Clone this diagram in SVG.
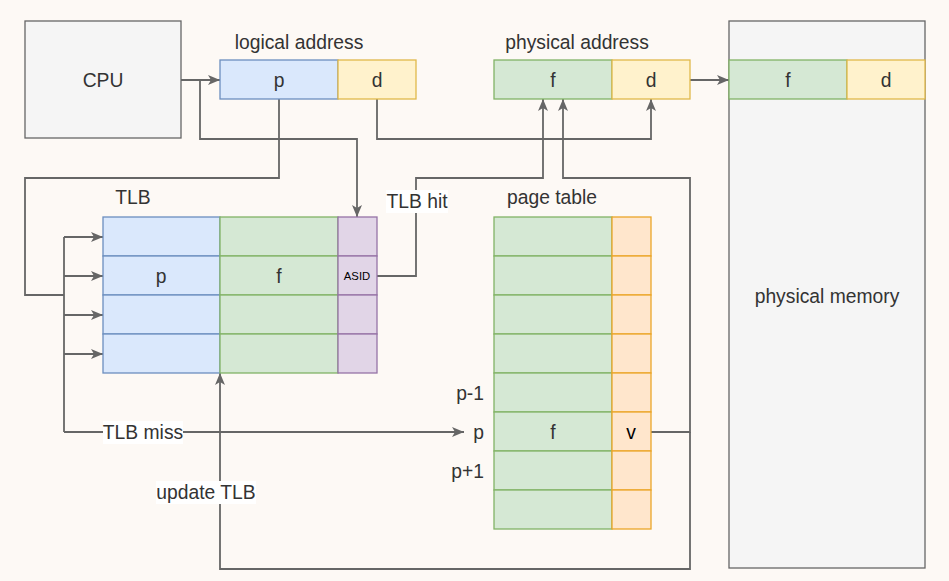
<svg xmlns="http://www.w3.org/2000/svg" width="949" height="581" viewBox="0 0 949 581">
<defs>
<marker id="arr" viewBox="0 0 12 10" refX="12" refY="5" markerWidth="12" markerHeight="10" markerUnits="userSpaceOnUse" orient="auto">
<path d="M0,0 L12,5 L0,10 L3,5 Z" fill="#666666"/>
</marker>
<style>
text{font-family:"Liberation Sans",Arial,Helvetica,sans-serif;font-size:19.3px;fill:#333333;text-anchor:middle;dominant-baseline:central}
.gray{fill:#f5f5f5;stroke:#666666;stroke-width:1.3}
.blue{fill:#dae8fc;stroke:#6c8ebf;stroke-width:1.3}
.yel{fill:#fff2cc;stroke:#e0b84a;stroke-width:1.3}
.grn{fill:#d5e8d4;stroke:#82b366;stroke-width:1.3}
.pur{fill:#e1d5e7;stroke:#9673a6;stroke-width:1.3}
.org{fill:#ffe6cc;stroke:#eba628;stroke-width:1.3}
.ln{fill:none;stroke:#666666;stroke-width:1.8}
.lbl{fill:#ffffff}
.end{text-anchor:end}
</style>
</defs>
<rect width="949" height="581" fill="#fdf9f5"/>

<g id="connectors">
<path class="ln" d="M181,80 L220,80" marker-end="url(#arr)"/>
<path class="ln" d="M200,80 L200,139 L357,139 L357,217" marker-end="url(#arr)"/>
<path class="ln" d="M279,99 L279,178 L25,178 L25,295 L64,295"/>
<path class="ln" d="M64,237 L64,432"/>
<path class="ln" d="M64,237 L103,237" marker-end="url(#arr)"/>
<path class="ln" d="M64,276 L103,276" marker-end="url(#arr)"/>
<path class="ln" d="M64,315 L103,315" marker-end="url(#arr)"/>
<path class="ln" d="M64,354 L103,354" marker-end="url(#arr)"/>
<path class="ln" d="M64,432 L464,432" marker-end="url(#arr)"/>
<path class="ln" d="M377,276 L416,276 L416,178 L543,178 L543,99" marker-end="url(#arr)"/>
<path class="ln" d="M377,99 L377,139 L651,139 L651,99" marker-end="url(#arr)"/>
<path class="ln" d="M690,80 L729,80" marker-end="url(#arr)"/>
<path class="ln" d="M651,432 L690,432 L690,178 L563,178 L563,99" marker-end="url(#arr)"/>
<path class="ln" d="M690,432 L690,569 L220,569 L220,373" marker-end="url(#arr)"/>
<rect class="lbl" x="386" y="190" width="62" height="23"/>
<text x="417" y="201">TLB hit</text>
<rect class="lbl" x="103" y="421" width="80" height="23"/>
<text x="143" y="432">TLB miss</text>
<rect class="lbl" x="156" y="481" width="100" height="23"/>
<text x="206" y="492">update TLB</text>
</g>

<g id="cpu">
<rect class="gray" x="25" y="21" width="156" height="117"/>
<text x="103" y="80">CPU</text>
</g>

<g id="logical-address">
<text x="299" y="42">logical address</text>
<rect class="blue" x="220" y="60" width="118" height="39"/>
<text x="279" y="80">p</text>
<rect class="yel" x="338" y="60" width="78" height="39"/>
<text x="377" y="80">d</text>
</g>

<g id="physical-address">
<text x="577" y="42">physical address</text>
<rect class="grn" x="494" y="60" width="118" height="39"/>
<text x="553" y="80">f</text>
<rect class="yel" x="612" y="60" width="78" height="39"/>
<text x="651" y="80">d</text>
</g>

<g id="physical-memory">
<rect class="gray" x="729" y="21" width="196" height="547"/>
<rect class="grn" x="729" y="60" width="118" height="39"/>
<text x="788" y="80">f</text>
<rect class="yel" x="847" y="60" width="78" height="39"/>
<text x="886" y="80">d</text>
<text x="827" y="296">physical memory</text>
</g>

<g id="tlb">
<text x="133" y="197">TLB</text>
<rect class="blue" x="103" y="217" width="117" height="39"/>
<rect class="blue" x="103" y="256" width="117" height="39"/>
<rect class="blue" x="103" y="295" width="117" height="39"/>
<rect class="blue" x="103" y="334" width="117" height="39"/>
<rect class="grn" x="220" y="217" width="118" height="39"/>
<rect class="grn" x="220" y="256" width="118" height="39"/>
<rect class="grn" x="220" y="295" width="118" height="39"/>
<rect class="grn" x="220" y="334" width="118" height="39"/>
<rect class="pur" x="338" y="217" width="39" height="39"/>
<rect class="pur" x="338" y="256" width="39" height="39"/>
<rect class="pur" x="338" y="295" width="39" height="39"/>
<rect class="pur" x="338" y="334" width="39" height="39"/>
<text x="161" y="276">p</text>
<text x="279" y="276">f</text>
<text x="357" y="276" style="font-size:11.3px;fill:#000000">ASID</text>
</g>

<g id="page-table">
<text x="552" y="197">page table</text>
<rect class="grn" x="494" y="217" width="118" height="39"/>
<rect class="grn" x="494" y="256" width="118" height="39"/>
<rect class="grn" x="494" y="295" width="118" height="39"/>
<rect class="grn" x="494" y="334" width="118" height="39"/>
<rect class="grn" x="494" y="373" width="118" height="39"/>
<rect class="grn" x="494" y="412" width="118" height="39"/>
<rect class="grn" x="494" y="451" width="118" height="39"/>
<rect class="grn" x="494" y="490" width="118" height="39"/>
<rect class="org" x="612" y="217" width="39" height="39"/>
<rect class="org" x="612" y="256" width="39" height="39"/>
<rect class="org" x="612" y="295" width="39" height="39"/>
<rect class="org" x="612" y="334" width="39" height="39"/>
<rect class="org" x="612" y="373" width="39" height="39"/>
<rect class="org" x="612" y="412" width="39" height="39"/>
<rect class="org" x="612" y="451" width="39" height="39"/>
<rect class="org" x="612" y="490" width="39" height="39"/>
<text x="553" y="432">f</text>
<text x="631" y="432" style="fill:#000000">v</text>
<text class="end" x="484" y="393">p-1</text>
<text class="end" x="484" y="432">p</text>
<text class="end" x="484" y="471">p+1</text>
</g>
</svg>
